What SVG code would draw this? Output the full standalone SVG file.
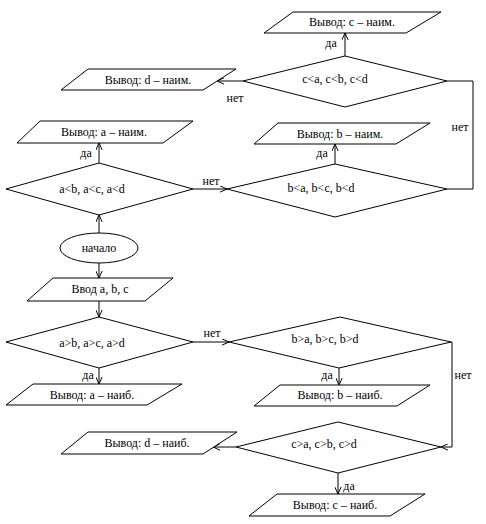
<svg xmlns="http://www.w3.org/2000/svg" width="486" height="524" viewBox="0 0 486 524">
<style>
.s{fill:#fff;stroke:#000;stroke-width:1}
.c{fill:none;stroke:#000;stroke-width:1}
text{font-family:"Liberation Serif","Times New Roman",serif;font-size:12px;fill:#000}
.m{text-anchor:middle}
</style>
<defs>
<marker id="arr" viewBox="0 0 10 10" refX="10" refY="5" markerWidth="7" markerHeight="7" markerUnits="userSpaceOnUse" orient="auto">
<path d="M0,0.5 L10,5 L0,9.5" fill="none" stroke="#000" stroke-width="1.4"/>
</marker>
</defs>
<rect width="486" height="524" fill="#fff"/>
<g id="connectors">
<line class="c" x1="345" y1="56" x2="345" y2="33" marker-end="url(#arr)"/>
<line class="c" x1="243" y1="81" x2="217" y2="81" marker-end="url(#arr)"/>
<path class="c" d="M447,81 H473 V189 H447"/>
<line class="c" x1="99" y1="163" x2="99" y2="143" marker-end="url(#arr)"/>
<line class="c" x1="193" y1="189" x2="227" y2="189" marker-end="url(#arr)"/>
<line class="c" x1="335" y1="164" x2="335" y2="144" marker-end="url(#arr)"/>
<line class="c" x1="99" y1="233" x2="99" y2="215" marker-end="url(#arr)"/>
<line class="c" x1="99" y1="263" x2="99" y2="278" marker-end="url(#arr)"/>
<line class="c" x1="99" y1="301" x2="99" y2="317" marker-end="url(#arr)"/>
<line class="c" x1="193" y1="342" x2="229" y2="342" marker-end="url(#arr)"/>
<line class="c" x1="99" y1="368" x2="99" y2="384" marker-end="url(#arr)"/>
<line class="c" x1="339" y1="368" x2="339" y2="385" marker-end="url(#arr)"/>
<path class="c" d="M451,342 H452 V447 H441" marker-end="url(#arr)"/>
<line class="c" x1="236" y1="447" x2="213" y2="447" marker-end="url(#arr)"/>
<line class="c" x1="338" y1="473" x2="338" y2="494" marker-end="url(#arr)"/>
<text class="m" x="331" y="47">да</text>
<text class="m" x="235" y="102">нет</text>
<text class="m" x="460" y="131">нет</text>
<text class="m" x="86" y="157">да</text>
<text class="m" x="211" y="185">нет</text>
<text class="m" x="322" y="157">да</text>
<text class="m" x="212" y="337">нет</text>
<text class="m" x="88" y="379">да</text>
<text class="m" x="327" y="379">да</text>
<text class="m" x="463" y="379">нет</text>
<text class="m" x="349" y="490">да</text>
</g>
<g id="out_c_min"><polygon class="s" points="293,12 441,12 406,33 264,33"/><text class="m" x="352" y="26">Вывод: c – наим.</text></g>
<g id="dec_c_min"><polygon class="s" points="243,81 345,56 447,81 345,107"/><text class="m" x="335" y="83">c&lt;a, c&lt;b, c&lt;d</text></g>
<g id="out_d_min"><polygon class="s" points="88,69 236,69 203,90 61,90"/><text class="m" x="148" y="84">Вывод: d – наим.</text></g>
<g id="out_a_min"><polygon class="s" points="40,121 193,121 163,143 17,143"/><text class="m" x="104" y="136">Вывод: a – наим.</text></g>
<g id="dec_a_min"><polygon class="s" points="6,189 99,163 193,189 99,215"/><text class="m" x="92" y="193">a&lt;b, a&lt;c, a&lt;d</text></g>
<g id="out_b_min"><polygon class="s" points="278,123 430,123 396,144 254,144"/><text class="m" x="340" y="138">Вывод: b – наим.</text></g>
<g id="dec_b_min"><polygon class="s" points="227,189 335,164 447,189 335,217"/><text class="m" x="321" y="192">b&lt;a, b&lt;c, b&lt;d</text></g>
<g id="start"><ellipse class="s" cx="99" cy="248" rx="39" ry="15"/><text class="m" x="99" y="252">начало</text></g>
<g id="input"><polygon class="s" points="53,278 173,278 145,301 27,301"/><text class="m" x="100" y="293">Ввод a, b, c</text></g>
<g id="dec_a_max"><polygon class="s" points="6,342 99,317 193,342 99,368"/><text class="m" x="92" y="347">a&gt;b, a&gt;c, a&gt;d</text></g>
<g id="out_a_max"><polygon class="s" points="33,384 182,384 147,405 6,405"/><text class="m" x="92" y="399">Вывод: a – наиб.</text></g>
<g id="dec_b_max"><polygon class="s" points="229,342 340,317 451,342 339,368"/><text class="m" x="325" y="343">b&gt;a, b&gt;c, b&gt;d</text></g>
<g id="out_b_max"><polygon class="s" points="280,385 430,385 397,406 254,406"/><text class="m" x="340" y="399">Вывод: b – наиб.</text></g>
<g id="dec_c_max"><polygon class="s" points="236,447 338,422 441,447 338,473"/><text class="m" x="324" y="448">c&gt;a, c&gt;b, c&gt;d</text></g>
<g id="out_d_max"><polygon class="s" points="88,432 237,432 203,454 61,454"/><text class="m" x="147" y="447">Вывод: d – наиб.</text></g>
<g id="out_c_max"><polygon class="s" points="277,494 425,494 390,516 249,516"/><text class="m" x="335" y="509">Вывод: c – наиб.</text></g>
</svg>
